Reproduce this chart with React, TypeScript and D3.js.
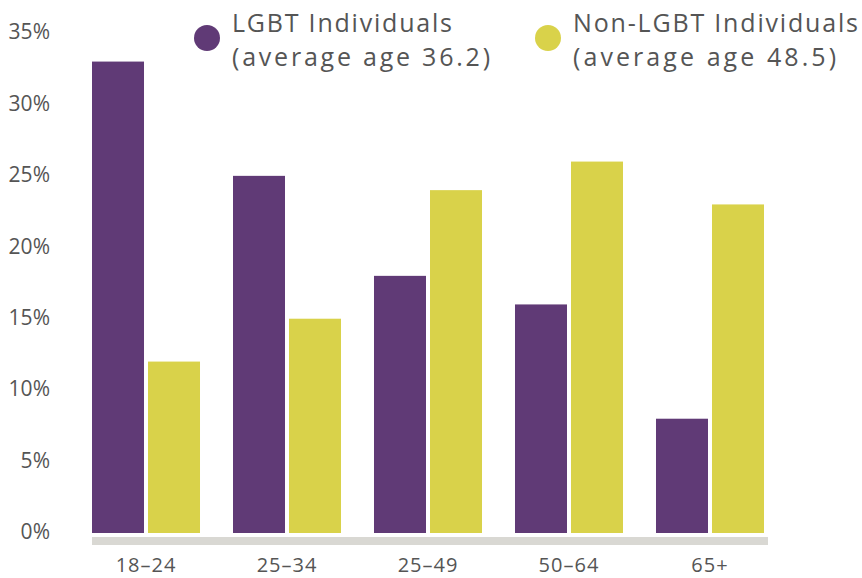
import React from "react";
import * as d3 from "d3";

const categories = ["18–24", "25–34", "25–49", "50–64", "65+"];
const seriesNames = ["LGBT Individuals", "Non-LGBT Individuals"];
const legendSub = ["(average age 36.2)", "(average age 48.5)"];
const lgbtValues = [33, 25, 18, 16, 8];
const nonLgbtValues = [12, 15, 24, 26, 23];
const yTicks = [0, 5, 10, 15, 20, 25, 30, 35];

const colors = ["#603a76", "#d9d24a"];
const FONT = "'Open Sans', 'DejaVu Sans', sans-serif";

export default function App() {
  const W = 862, H = 578;
  const x = d3.scaleBand<string>().domain(categories).range([92, 764]).paddingInner(0.234).paddingOuter(0);
  const xi = d3.scaleBand<number>().domain([0, 1]).range([0, x.bandwidth()]).paddingInner(4 / 56);
  const y = d3.scaleLinear().domain([0, 35]).range([533, 33]);
  const series = [lgbtValues, nonLgbtValues];
  const legendW = [[220, 258], [285, 263]];
  return (
    <svg width={W} height={H} style={{ position: "absolute", left: 0, top: 0 }} fontFamily={FONT}>
      <rect width={W} height={H} fill="#fff" />
      {yTicks.map((t) => (
        <text key={t} x={50} y={y(t) - 1} dy="0.35em" textAnchor="end" fontSize={21} fill="#555">
          {t}%
        </text>
      ))}
      {categories.map((c, i) => (
        <g key={c} transform={`translate(${x(c)},0)`}>
          {series.map((s, j) => (
            <rect key={j} x={xi(j)} width={xi.bandwidth()} y={y(s[i])} height={y(0) - y(s[i])} fill={colors[j]} />
          ))}
        </g>
      ))}
      <rect x={92} y={537} width={676} height={8} fill="#d9d8d3" />
      {categories.map((c) => (
        <text key={c} x={(x(c) as number) + x.bandwidth() / 2} y={572} textAnchor="middle" fontSize={20} letterSpacing={1} fill="#555">
          {c}
        </text>
      ))}
      {seriesNames.map((n, j) => {
        const cx = j === 0 ? 207 : 548;
        return (
          <g key={n}>
            <circle cx={cx} cy={38} r={13} fill={colors[j]} />
            <text x={cx + 25} y={32} fontSize={25} fill="#555" textLength={legendW[j][0]} lengthAdjust="spacing">{n}</text>
            <text x={cx + 25} y={66} fontSize={25} fill="#555" textLength={legendW[j][1]} lengthAdjust="spacing">{legendSub[j]}</text>
          </g>
        );
      })}
    </svg>
  );
}
